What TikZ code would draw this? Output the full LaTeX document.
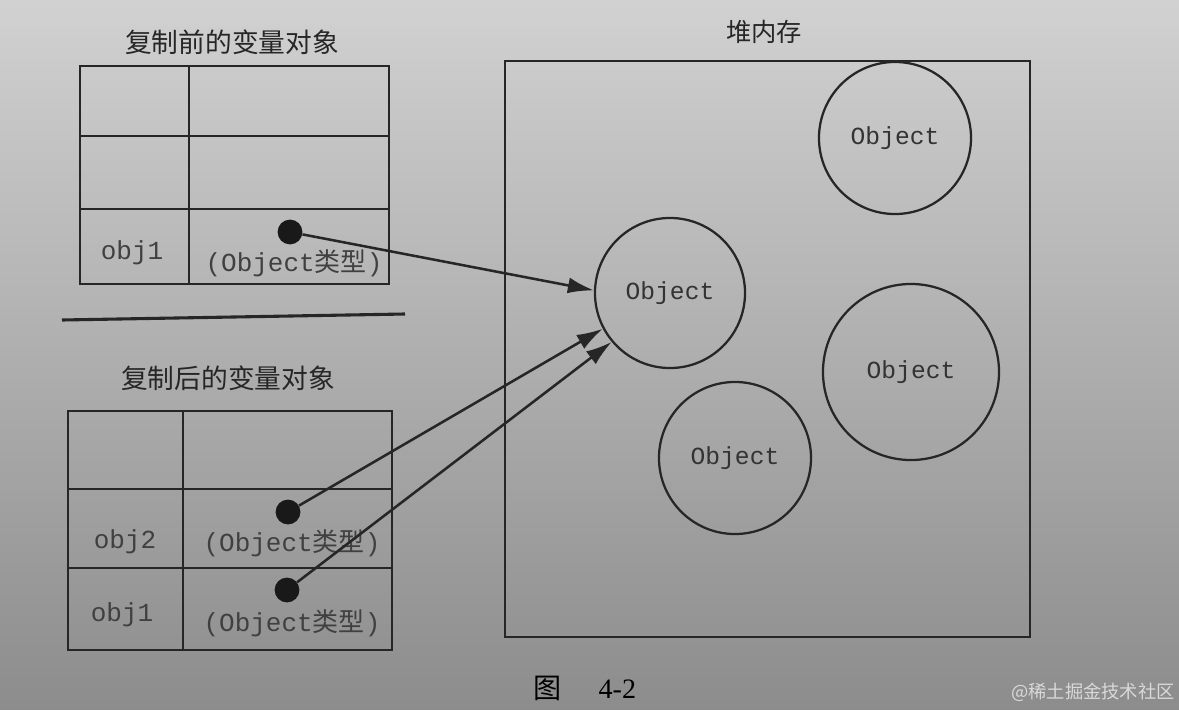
\documentclass[tikz,border=0pt]{standalone}
\usepackage{fontspec}
\setmainfont{Liberation Serif}
\setmonofont{Liberation Mono}
\newfontfamily\cjk{Noto Sans CJK SC}
\usetikzlibrary{arrows.meta}

\begin{document}
\begin{tikzpicture}[x=0.025cm,y=-0.025cm,
  grid/.style={line width=1.8pt,black!85},
  obj/.style={circle,draw=black!85,line width=1.6pt,inner sep=0pt,
              text=black!80,font=\ttfamily\fontsize{17.5}{17.5}\selectfont},
  var/.style={inner sep=1pt,text=black!75,font=\ttfamily\fontsize{18.5}{18.5}\selectfont},
  dot/.style={circle,fill=black!90,inner sep=0pt,minimum size=0.62cm},
  title/.style={text=black!85,font=\cjk\fontsize{19}{19}\selectfont},
  ptr/.style={-{Latex[length=0.65cm,width=0.4cm]},line width=1.8pt,black!85}
]
\useasboundingbox (0,0) rectangle (1179,710);
\shade[top color=black!18,bottom color=black!45] (0,0) rectangle (1179,710);

% heap
\node[title,font=\cjk\fontsize{18}{18}\selectfont] (heaptitle) at (764,32) {堆内存};
\draw[grid] (505,61) rectangle (1030,637);
\node[obj,minimum size=3.8cm] (o1) at (895,138) {Object};
\node[obj,minimum size=3.75cm] (o2) at (670,293) {Object};
\node[obj,minimum size=4.4cm] (o3) at (911,372) {Object};
\node[obj,minimum size=3.8cm] (o4) at (735,458) {Object};

% before copy
\node[title] (before) at (232,42) {复制前的变量对象};
\draw[grid] (80,66) rectangle (389,284);
\draw[grid] (189,66) -- (189,284);
\foreach \y in {136,209}
  \draw[grid] (80,\y) -- (389,\y);
\node[var] (v1) at (132,253) {obj1};
\node[var] (t1) at (294,263) {(Object{\cjk 类型})};
\node[dot] (d1) at (290,232) {};

\draw[grid,line width=2.2pt] (62,320) -- (405,314);

% after copy
\node[title] (after) at (228,378) {复制后的变量对象};
\draw[grid] (68,411) rectangle (392,650);
\draw[grid] (183,411) -- (183,650);
\foreach \y in {489,568}
  \draw[grid] (68,\y) -- (392,\y);
\node[var] (v2) at (125,542) {obj2};
\node[var] (t2) at (292,543) {(Object{\cjk 类型})};
\node[dot] (d2) at (288,512) {};
\node[var] (v3) at (122,615) {obj1};
\node[var] (t3) at (292,623) {(Object{\cjk 类型})};
\node[dot] (d3) at (287,590) {};

\draw[ptr] (d1) -- (o2.178);
\draw[ptr] (d2) -- (o2.208);
\draw[ptr] (d3) -- (o2.220);

\node[font=\fontsize{20}{20}\selectfont] (cap) at (585,688) {{\cjk 图}\hspace{1.3em}4-2};
\node[text=white!85!black,font=\cjk\fontsize{13}{13}\selectfont] (wm) at (1093,692) {@稀土掘金技术社区};
\end{tikzpicture}
\end{document}
